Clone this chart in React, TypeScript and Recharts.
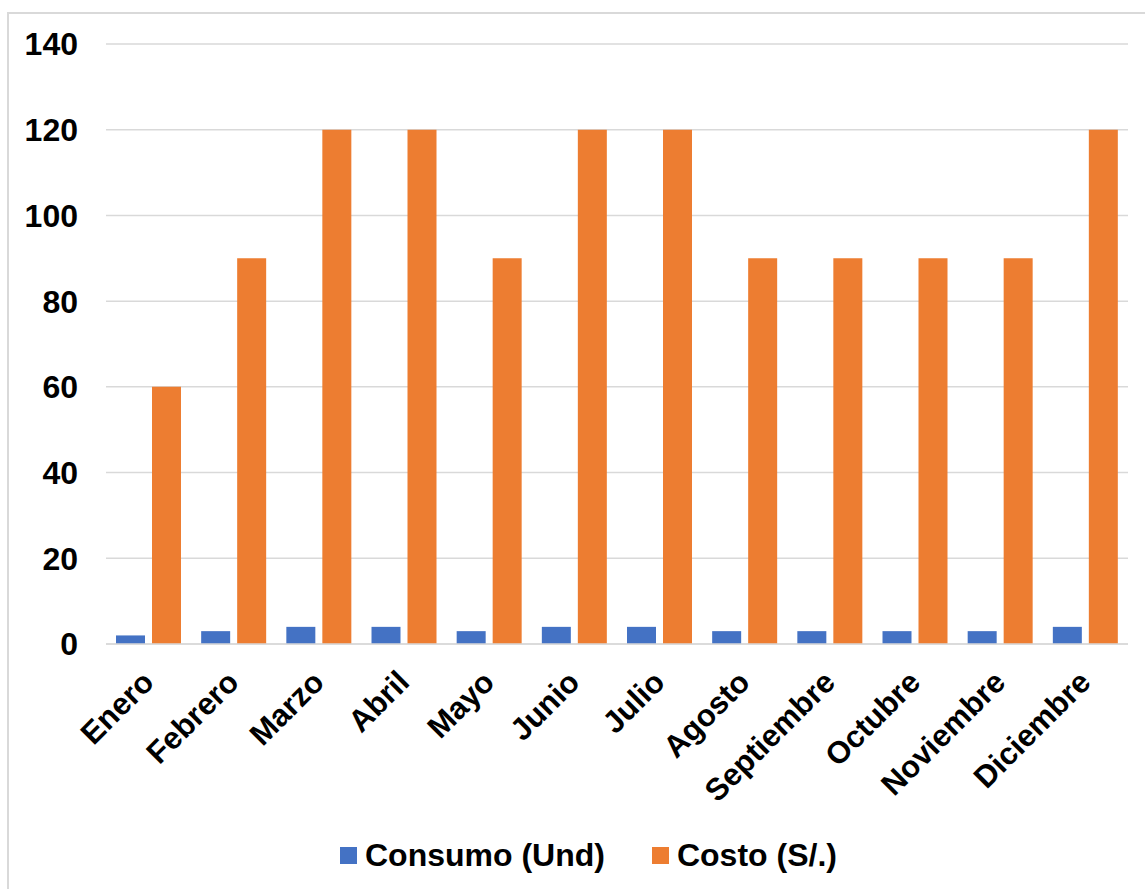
import React from 'react'
import { BarChart, Bar, XAxis, YAxis, CartesianGrid, Legend } from 'recharts'

const months = [
  'Enero', 'Febrero', 'Marzo', 'Abril', 'Mayo', 'Junio',
  'Julio', 'Agosto', 'Septiembre', 'Octubre', 'Noviembre', 'Diciembre',
]
const consumo = [2, 3, 4, 4, 3, 4, 4, 3, 3, 3, 3, 4]
const costo = [60, 90, 120, 120, 90, 120, 120, 90, 90, 90, 90, 120]
const yTicks = [0, 20, 40, 60, 80, 100, 120, 140]

const BLUE = '#4472C4'
const ORANGE = '#ED7D31'
const GRID = '#d9d9d9'
const FONT = '"Liberation Sans", Arial, sans-serif'

const data = months.map((m, i) => ({ month: m, consumo: consumo[i], costo: costo[i] }))

function MonthTick(props: any) {
  const { x, y, payload } = props
  return (
    <g transform={`translate(${x + 7},${y + 40})`}>
      <text
        x={0}
        y={0}
        transform="rotate(-45)"
        textAnchor="end"
        fontFamily={FONT}
        fontWeight="bold"
        fontSize={31}
        fill="#000"
      >
        {payload.value}
      </text>
    </g>
  )
}

function LegendBox() {
  const item = (color: string, label: string, gapAfter: number) => (
    <div style={{ display: 'flex', alignItems: 'center', marginRight: gapAfter }}>
      <div style={{ width: 17, height: 17, background: color, marginRight: 8 }} />
      <span style={{ fontFamily: FONT, fontWeight: 'bold', fontSize: 32, color: '#000' }}>{label}</span>
    </div>
  )
  return (
    <div style={{ display: 'flex', alignItems: 'center', height: 50, paddingLeft: 340 }}>
      {item(BLUE, 'Consumo (Und)', 47)}
      {item(ORANGE, 'Costo (S/.)', 0)}
    </div>
  )
}

export default function App() {
  return (
    <div style={{ position: 'absolute', left: 0, top: 0, width: 1145, height: 889, overflow: 'hidden', background: '#fff' }}>
      <div
        style={{
          position: 'absolute',
          left: 7,
          top: 12,
          width: 1200,
          height: 950,
          borderLeft: `2px solid ${GRID}`,
          borderTop: `2px solid ${GRID}`,
        }}
      />
      <BarChart
        width={1145}
        height={889}
        data={data}
        margin={{ top: 44, right: 17, left: 0, bottom: 9 }}
        barSize={29}
        barGap={7}
      >
        <CartesianGrid vertical={false} stroke={GRID} strokeWidth={1.5} />
        <XAxis
          dataKey="month"
          height={186}
          interval={0}
          axisLine={{ stroke: GRID, strokeWidth: 1.5 }}
          tickLine={false}
          tickSize={0}
          tickMargin={0}
          tick={<MonthTick />}
        />
        <YAxis
          width={106}
          domain={[0, 140]}
          ticks={yTicks}
          axisLine={false}
          tickLine={false}
          tickSize={0}
          tickMargin={28}
          tick={{ fontFamily: FONT, fontWeight: 'bold', fontSize: 32, fill: '#000' }}
        />
        <Legend
          verticalAlign="bottom"
          wrapperStyle={{ left: 0, width: 1145 }}
          content={() => <LegendBox />}
        />
        <Bar dataKey="consumo" name="Consumo (Und)" fill={BLUE} isAnimationActive={false} />
        <Bar dataKey="costo" name="Costo (S/.)" fill={ORANGE} isAnimationActive={false} />
      </BarChart>
    </div>
  )
}
